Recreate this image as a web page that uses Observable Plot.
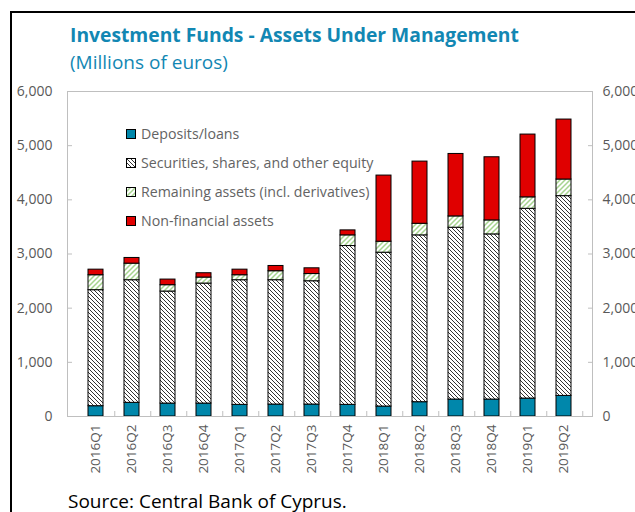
<!DOCTYPE html>
<html><head><meta charset="utf-8">
<script src="https://cdn.jsdelivr.net/npm/d3@7"></script>
<script src="https://cdn.jsdelivr.net/npm/@observablehq/plot@0.6"></script>
<style>
body{margin:0;background:#fff;overflow:hidden;font-family:"Open Sans",sans-serif}
#page{position:relative;width:635px;height:512px;overflow:hidden;background:#fff}
#frameTop{position:absolute;left:10px;top:11px;width:625px;height:2px;background:#000}
#frameLeft{position:absolute;left:10px;top:11px;width:2px;height:501px;background:#000}
#title{position:absolute;left:70px;top:21px;font-weight:700;font-size:19.3px;color:#1287b3;white-space:nowrap}
#subtitle{position:absolute;left:70px;top:49px;font-size:19px;color:#1287b3;white-space:nowrap}
#chart{position:absolute;left:0;top:80px}
#source{position:absolute;left:68px;top:488px;font-size:19px;color:#000;white-space:nowrap}
#legend{position:absolute;left:126px;top:119px;font-size:14.2px;color:#636363}
#legend .row{height:29px;display:flex;align-items:center;white-space:nowrap}
#legend svg{margin-right:5px}
</style>
</head><body>
<svg width="0" height="0" style="position:absolute">
  <defs>
    <pattern id="hatchSec" patternUnits="userSpaceOnUse" width="4" height="4">
      <rect width="4" height="4" fill="#fff"/>
      <path d="M0,0 L4,4 M-1,3 L1,5 M3,-1 L5,1" stroke="#333" stroke-width="1"/>
    </pattern>
    <pattern id="hatchRem" patternUnits="userSpaceOnUse" width="5" height="5">
      <rect width="5" height="5" fill="#fff"/>
      <path d="M0,5 L5,0 M-1,1 L1,-1 M4,6 L6,4" stroke="#a6d48f" stroke-width="1.5"/>
    </pattern>
  </defs>
</svg>
<div id="page">
  <div id="frameTop"></div>
  <div id="frameLeft"></div>
  <div id="title">Investment Funds - Assets Under Management</div>
  <div id="subtitle">(Millions of euros)</div>
  <div id="chart"></div>
  <div id="legend"></div>
  <div id="source">Source: Central Bank of Cyprus.</div>
</div>
<script>
const quarters = ["2016Q1","2016Q2","2016Q3","2016Q4","2017Q1","2017Q2","2017Q3","2017Q4","2018Q1","2018Q2","2018Q3","2018Q4","2019Q1","2019Q2"];
const deposits = [190,252,239,239,215,221,221,215,184,264,313,313,331,380];
const securities = [2142,2264,2068,2215,2301,2295,2276,2932,2840,3080,3172,3049,3503,3688];
const remaining = [276,306,117,111,92,166,133,197,203,214,209,258,212,307];
const nonFinancial = [103,105,104,80,103,97,106,92,1221,1148,1153,1166,1159,1107];
const seriesNames = ["Deposits/loans","Securities, shares, and other equity","Remaining assets (incl. derivatives)","Non-financial assets"];
const seriesFills = ["#0087ab","url(#hatchSec)","url(#hatchRem)","#e00000"];
const yTicks = [0,1000,2000,3000,4000,5000,6000];

const seriesValues = [deposits, securities, remaining, nonFinancial];
const data = [];
seriesNames.forEach((s, i) => quarters.forEach((q, j) => data.push({quarter: q, series: s, value: seriesValues[i][j]})));

const axisColor = "#595959";
const tickColor = "#bfbfbf";
const step = (635 - 67 - 43) / quarters.length;

const chart = Plot.plot({
  width: 635,
  height: 400,
  marginLeft: 67,
  marginRight: 43,
  marginTop: 11,
  marginBottom: 64,
  style: {fontFamily: "'Open Sans', sans-serif", fontSize: "14px", background: "transparent"},
  x: {domain: quarters, padding: 0.57, align: 0.5, label: null},
  y: {domain: [0, 6000], label: null},
  color: {domain: seriesNames, range: seriesFills},
  marks: [
    Plot.barY(data, {x: "quarter", y: "value", fill: "series", z: "series", order: seriesNames, stroke: "#000", strokeWidth: 1}),
    Plot.frame({stroke: tickColor}),
    Plot.axisY({anchor: "left", ticks: yTicks, tickSize: 0, tickPadding: 15, tickFormat: d3.format(","), color: axisColor, fontSize: 14}),
    Plot.axisY({anchor: "right", ticks: yTicks, tickSize: 0, tickPadding: 10, tickFormat: d3.format(","), color: axisColor, fontSize: 14}),
    Plot.axisY({anchor: "left", ticks: yTicks, tickSize: -5, tickFormat: () => "", stroke: tickColor}),
    Plot.axisY({anchor: "right", ticks: yTicks, tickSize: -5, tickFormat: () => "", stroke: tickColor}),
    Plot.axisX({anchor: "bottom", tickSize: -5, dx: step / 2, tickFormat: () => "", stroke: tickColor}),
    Plot.axisX({anchor: "bottom", tickSize: 0, tickPadding: 8, tickRotate: -90, color: axisColor, fontSize: 13.5})
  ]
});
document.getElementById("chart").appendChild(chart);

const legend = document.getElementById("legend");
seriesNames.forEach((s, i) => {
  const row = document.createElement("div");
  row.className = "row";
  row.innerHTML = `<svg width="10" height="10"><rect x="0.5" y="0.5" width="9" height="9" fill="${seriesFills[i]}" stroke="#000" stroke-width="1"/></svg><span>${s}</span>`;
  legend.appendChild(row);
});
</script>
</body></html>
